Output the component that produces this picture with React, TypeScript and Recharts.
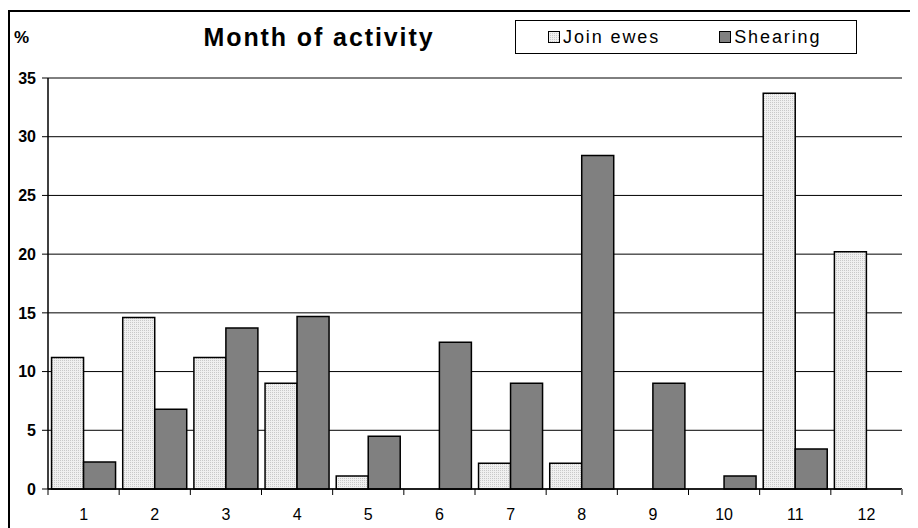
import React from 'react';
import { Bar, BarChart, CartesianGrid, XAxis, YAxis } from 'recharts';

const months = ['1', '2', '3', '4', '5', '6', '7', '8', '9', '10', '11', '12'];
const joinEwes = [11.2, 14.6, 11.2, 9.0, 1.1, 0, 2.2, 2.2, 0, 0, 33.7, 20.2];
const shearing = [2.3, 6.8, 13.7, 14.7, 4.5, 12.5, 9.0, 28.4, 9.0, 1.1, 3.4, 0];
const yTicks = [0, 5, 10, 15, 20, 25, 30, 35];

const data = months.map((month, i) => ({
  month,
  join: joinEwes[i],
  shear: shearing[i],
}));

const font = 'Arial, "Liberation Sans", Helvetica, sans-serif';

// month label plus tick marks on the category boundaries (Excel style)
const MonthTick = (props: any) => {
  const { x, y, payload, index, visibleTicksCount } = props;
  const half = payload?.offset ?? 854 / 24;
  const last = index === visibleTicksCount - 1;
  return (
    <g>
      <line x1={x - half} y1={y} x2={x - half} y2={y + 6} stroke="#000" />
      {last && <line x1={x + half} y1={y} x2={x + half} y2={y + 6} stroke="#808080" strokeWidth={2} />}
      <text x={x} y={y + 31} textAnchor="middle" fill="#000" fontSize={16} fontFamily={font}>
        {payload.value}
      </text>
    </g>
  );
};

const LegendBox = () => (
  <div
    style={{
      position: 'absolute',
      left: 505,
      top: 8,
      width: 340,
      height: 32,
      border: '1px solid #000',
      background: '#fff',
      display: 'flex',
      alignItems: 'center',
      fontFamily: font,
      fontSize: 18,
      letterSpacing: 1.9,
      color: '#000',
    }}
  >
    <svg width={12} height={12} style={{ marginLeft: 32, marginRight: 3 }}>
      <rect x={0.5} y={0.5} width={11} height={11} fill="url(#join-dots)" stroke="#000" />
    </svg>
    <span>Join ewes</span>
    <svg width={12} height={12} style={{ marginLeft: 59, marginRight: 3 }}>
      <rect x={0.5} y={0.5} width={11} height={11} fill="#808080" stroke="#000" />
    </svg>
    <span>Shearing</span>
  </div>
);

const App: React.FC = () => (
  <div
    style={{
      position: 'relative',
      width: 906,
      height: 518,
      marginTop: 2,
      borderTop: '2px solid #000',
      borderLeft: '2px solid #000',
      fontFamily: font,
    }}
  >
    <div
      style={{
        position: 'absolute',
        left: 4,
        top: 16,
        fontSize: 17,
        fontWeight: 'bold',
      }}
    >
      %
    </div>
    <div
      style={{
        position: 'absolute',
        left: 174,
        width: 270,
        textAlign: 'center',
        top: 11,
        fontSize: 25,
        letterSpacing: 1.9,
        fontWeight: 'bold',
      }}
    >
      Month of activity
    </div>
    <BarChart
      width={905}
      height={516}
      data={data}
      margin={{ top: 66, right: 13, bottom: 9, left: 8 }}
      barCategoryGap="5%"
      barGap={0}
      style={{ position: 'absolute', left: 0, top: 0 }}
    >
      <defs>
        <pattern id="join-dots" width={2} height={2} patternUnits="userSpaceOnUse">
          <rect width={2} height={2} fill="#f0f0f0" />
          <rect width={1} height={1} fill="#c9c9c9" />
        </pattern>
      </defs>
      <CartesianGrid vertical={false} stroke="#000" strokeWidth={1} />
      <XAxis
        dataKey="month"
        height={30}
        interval={0}
        tickSize={0}
        tickMargin={0}
        tickLine={false}
        axisLine={{ stroke: '#000', strokeWidth: 1.5 }}
        tick={<MonthTick />}
      />
      <YAxis
        domain={[0, 35]}
        ticks={yTicks}
        width={30}
        tickSize={6}
        tickMargin={6}
        interval={0}
        axisLine={{ stroke: '#000', strokeWidth: 1.5 }}
        tickLine={{ stroke: '#000' }}
        tick={{ fill: '#000', fontSize: 16, fontWeight: 'bold', fontFamily: font }}
      />
      <YAxis
        yAxisId="frame"
        orientation="right"
        width={0}
        tick={false}
        tickLine={false}
        axisLine={{ stroke: '#808080', strokeWidth: 2 }}
      />
      <Bar dataKey="join" name="Join ewes" fill="url(#join-dots)" stroke="#000" strokeWidth={1.5} isAnimationActive={false} />
      <Bar dataKey="shear" name="Shearing" fill="#808080" stroke="#000" strokeWidth={1.5} isAnimationActive={false} />
    </BarChart>
    <LegendBox />
  </div>
);

export default App;
